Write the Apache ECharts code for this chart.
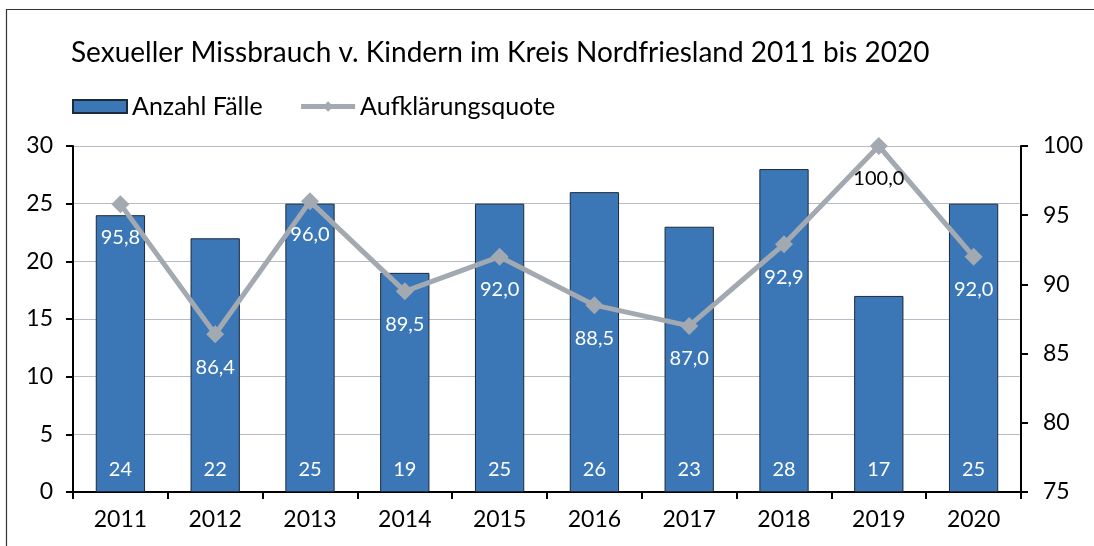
<!DOCTYPE html>
<html>
<head>
<meta charset="utf-8">
<script src="https://cdn.jsdelivr.net/npm/echarts@6/dist/echarts.min.js"></script>
<style>
  html, body { margin: 0; padding: 0; background: #fff; }
  #chart { width: 1094px; height: 546px; }
</style>
</head>
<body>
<div id="chart"></div>
<script>
// Jahre, Fallzahlen und Aufklärungsquote (%)
const years = ['2011', '2012', '2013', '2014', '2015', '2016', '2017', '2018', '2019', '2020'];
const cases = [24, 22, 25, 19, 25, 26, 23, 28, 17, 25];
const clearanceRate = [95.8, 86.4, 96.0, 89.5, 92.0, 88.5, 87.0, 92.9, 100.0, 92.0];

const FONT = 'Lato, "Open Sans", sans-serif';
const fmt = v => v.toFixed(1).replace('.', ',');

const chart = echarts.init(document.getElementById('chart'), null, { renderer: 'canvas' });

// Quote-Labels: weiß auf Balken, schwarz auf weißem Hintergrund
const lineData = clearanceRate.map((v, i) => ({
  value: v,
  label: { color: years[i] === '2019' ? '#000' : '#fff' }
}));

chart.setOption({
  animation: false,
  backgroundColor: '#fff',
  textStyle: { fontFamily: FONT },
  graphic: [{
    type: 'rect',
    shape: { x: 6.5, y: 9.5, width: 1200, height: 700 },
    style: { fill: 'none', stroke: '#333', lineWidth: 1.2 },
    silent: true
  }],
  title: {
    text: 'Sexueller Missbrauch v. Kindern im Kreis Nordfriesland 2011 bis 2020',
    left: 66,
    top: 34,
    textStyle: { fontFamily: FONT, fontSize: 28, fontWeight: 'normal', color: '#000' }
  },
  legend: {
    left: 67,
    top: 89,
    itemWidth: 54,
    itemHeight: 13,
    itemGap: 36,
    textStyle: { fontFamily: FONT, fontSize: 25, color: '#000' },
    lineStyle: { width: 5 },
    data: [
      { name: 'Anzahl Fälle', icon: 'rect' },
      { name: 'Aufklärungsquote' }
    ]
  },
  grid: { left: 73, right: 73, top: 146, bottom: 54 },
  xAxis: {
    type: 'category',
    data: years,
    axisLine: { lineStyle: { color: '#000', width: 2 } },
    axisTick: { show: true, length: 7, lineStyle: { color: '#000', width: 2 } },
    axisLabel: { fontFamily: FONT, fontSize: 23, color: '#000', margin: 16 }
  },
  yAxis: [
    {
      type: 'value',
      min: 0, max: 30, interval: 5,
      axisLine: { show: true, lineStyle: { color: '#000', width: 2 } },
      axisTick: { show: true, length: 7, lineStyle: { color: '#000', width: 2 } },
      axisLabel: { fontFamily: FONT, fontSize: 23, color: '#000', margin: 20 },
      splitLine: { lineStyle: { color: '#b5bcc5', width: 1.2 } }
    },
    {
      type: 'value',
      min: 75, max: 100, interval: 5,
      position: 'right',
      axisLine: { show: true, lineStyle: { color: '#000', width: 2 } },
      axisTick: { show: true, length: 7, lineStyle: { color: '#000', width: 2 } },
      axisLabel: { fontFamily: FONT, fontSize: 23, color: '#000', margin: 22 },
      splitLine: { show: false }
    }
  ],
  series: [
    {
      name: 'Anzahl Fälle',
      type: 'bar',
      data: cases,
      barWidth: '52%',
      itemStyle: { color: '#3b77b7', borderColor: '#1c2a3a', borderWidth: 1 },
      label: {
        show: true,
        position: 'insideBottom',
        distance: 12,
        color: '#fff',
        fontFamily: FONT,
        fontSize: 20
      },
      z: 2
    },
    {
      name: 'Aufklärungsquote',
      type: 'line',
      yAxisIndex: 1,
      data: lineData,
      symbol: 'diamond',
      symbolSize: [18, 18],
      lineStyle: { color: '#a2a9b1', width: 5 },
      itemStyle: { color: '#a2a9b1' },
      label: {
        show: true,
        position: 'bottom',
        distance: 14,
        fontFamily: FONT,
        fontSize: 20,
        formatter: p => fmt(p.value)
      },
      z: 3
    }
  ]
});
</script>
</body>
</html>
